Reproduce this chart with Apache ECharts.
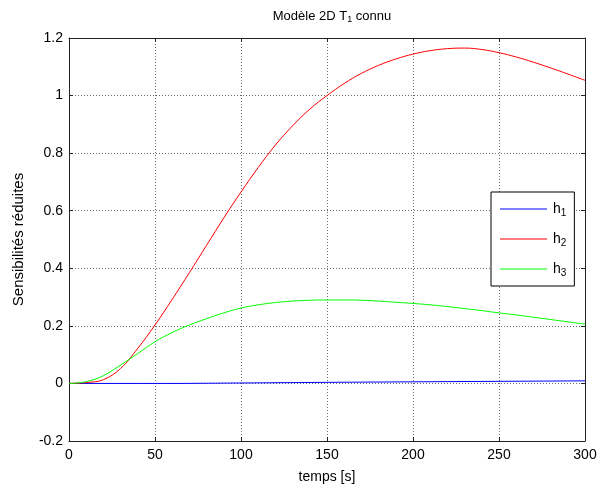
<!DOCTYPE html>
<html><head><meta charset="utf-8">
<script src="https://cdn.jsdelivr.net/npm/echarts@6/dist/echarts.min.js"></script>
<style>html,body{margin:0;padding:0;background:#fff}#c{width:603px;height:490px}</style>
</head><body><div id="c"></div>
<script>
var time = [0,10,20,30,40,50,60,70,80,90,100,110,120,130,140,150,160,170,180,190,200,210,220,230,240,250,260,270,280,290,300];
var h2 = [0,0.003,0.013,0.052,0.122,0.203,0.292,0.385,0.48,0.575,0.665,0.75,0.828,0.895,0.953,1.0,1.042,1.077,1.105,1.127,1.144,1.156,1.163,1.165,1.16,1.149,1.134,1.116,1.096,1.075,1.053];
var h3 = [0,0.006,0.027,0.064,0.104,0.145,0.177,0.203,0.225,0.245,0.262,0.273,0.281,0.286,0.289,0.29,0.29,0.289,0.286,0.282,0.278,0.273,0.267,0.26,0.253,0.245,0.238,0.23,0.222,0.214,0.206];
var h1Time = [0,65,65,156,156,300];
var h1 = [0,0,0.004,0.004,0.009,0.009];
var xTicks = [0,50,100,150,200,250,300];
var yTicks = [-0.2,0,0.2,0.4,0.6,0.8,1,1.2];

function pairs(t, v){ return t.map(function(x,i){ return [x, v[i]]; }); }
var font = 'Liberation Sans, Arial, Helvetica, sans-serif';
var chart = echarts.init(document.getElementById('c'));
var gridLine = {show:true, lineStyle:{color:'#6a6a6a', type:[1,2], width:1}};
var axLine = {show:true, onZero:false, lineStyle:{color:'#222', width:1}};
var tick = {show:true, inside:true, length:4, lineStyle:{color:'#222'}};
chart.setOption({
  animation:false,
  backgroundColor:'#fff',
  title:{
    text:'Modèle 2D T{sub|1} connu', left:327, top:3, textAlign:'center',
    textStyle:{fontFamily:font, fontSize:13, fontWeight:'normal', color:'#000',
      rich:{sub:{fontFamily:font, fontSize:9, color:'#000', padding:[7,0,0,0]}}}
  },
  grid:{left:69, right:18, top:38, bottom:49, containLabel:false},
  legend:{
    orient:'vertical', left:491, top:192, width:86,
    backgroundColor:'#fff', borderColor:'#000', borderWidth:1,
    padding:[10,8,8,9], icon:'rect', itemWidth:47, itemHeight:1, itemGap:14,
    data:['h1','h2','h3'],
    formatter:function(n){ return 'h{sub|' + n.substring(1) + '}'; },
    textStyle:{fontFamily:font, fontSize:14, color:'#000', padding:[0,0,0,1],
      rich:{sub:{fontFamily:font, fontSize:10, color:'#000', padding:[8,0,0,0]}}}
  },
  xAxis:[{
    type:'value', min:0, max:300, interval:50, position:'bottom',
    name:'temps [s]', nameLocation:'middle', nameGap:29,
    nameTextStyle:{fontFamily:font, fontSize:14, color:'#000'},
    axisLine:axLine, axisTick:tick, splitLine:gridLine,
    axisLabel:{fontFamily:font, fontSize:14, color:'#000', margin:7}
  },{
    type:'value', min:0, max:300, interval:50, position:'top',
    axisLine:axLine, axisTick:tick, splitLine:{show:false}, axisLabel:{show:false}
  }],
  yAxis:[{
    type:'value', min:-0.2, max:1.2, interval:0.2, position:'left',
    name:'Sensibilités réduites', nameLocation:'middle', nameGap:43, nameRotate:90,
    nameTextStyle:{fontFamily:font, fontSize:15, color:'#000'},
    axisLine:axLine, axisTick:tick, splitLine:gridLine,
    axisLabel:{fontFamily:font, fontSize:14, color:'#000', margin:6,
      formatter:function(v){ return String(Math.round(v*10)/10); }}
  },{
    type:'value', min:-0.2, max:1.2, interval:0.2, position:'right',
    axisLine:axLine, axisTick:tick, splitLine:{show:false}, axisLabel:{show:false}
  }],
  series:[
    {name:'h1', type:'line', data:pairs(h1Time,h1), symbol:'none', lineStyle:{color:'#0000ff', width:1}, itemStyle:{color:'#0000ff'}},
    {name:'h2', type:'line', data:pairs(time,h2), smooth:0.4, symbol:'none', lineStyle:{color:'#ff0000', width:1}, itemStyle:{color:'#ff0000'}},
    {name:'h3', type:'line', data:pairs(time,h3), smooth:0.4, symbol:'none', lineStyle:{color:'#00ff00', width:1}, itemStyle:{color:'#00ff00'}}
  ]
});
</script></body></html>
